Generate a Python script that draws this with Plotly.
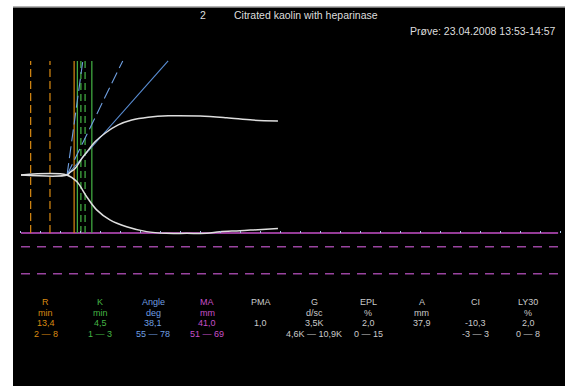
import plotly.graph_objects as go

# ---- data (time in minutes, amplitude in mm) ----
time_upper = [0, 14.3, 15.2, 16.8, 18.9, 20.9, 23.0, 26.1, 30.2, 34.4, 39.5, 45.7, 55.6, 63.9, 72.0, 79.8]
amp_upper = [0, 0, 0.9, 2.3, 5.8, 8.7, 11.6, 14.6, 17.5, 19.2, 20.2, 20.7, 20.6, 20.0, 19.2, 18.9]
time_lower = [0, 14.2, 17.3, 20.4, 23.5, 27.6, 32.8, 39.0, 45.2, 51.5, 57.7, 61.8, 68.0, 73.6, 79.8]
amp_lower = [0, 0, -2.3, -7.6, -12.2, -15.7, -18.1, -19.8, -20.4, -20.4, -20.4, -19.8, -19.5, -19.1, -18.7]

r_range_times = [3.0, 9.0]
r_time = 16.5
k_solid_times = [17.5, 22.0]
k_dashed_times = [18.6, 19.9]
marker_top, marker_bottom = 39.9, -20.3

angle_origin = (14.3, 0.0)
angle_solid_end = (45.7, 39.9)
angle_dashed_ends = [(31.6, 39.9), (19.2, 39.9)]

ma_level = -20.3
ma_range_levels = [-25.1, -34.5]
ma_span = [0, 166.8]

title_num = "2"
title_text = "Citrated kaolin with heparinase"
sample_text = "Prøve: 23.04.2008 13:53-14:57"

param_names = ["R", "K", "Angle", "MA", "PMA", "G", "EPL", "A", "CI", "LY30"]
param_units = ["min", "min", "deg", "mm", "", "d/sc", "%", "mm", "", "%"]
param_values = ["13,4", "4,5", "38,1", "41,0", "1,0", "3,5K", "2,0", "37,9", "-10,3", "2,0"]
param_ranges = ["2 — 8", "1 — 3", "55 — 78", "51 — 69", "", "4,6K — 10,9K", "0 — 15", "", "-3 — 3", "0 — 8"]

# ---- styles ----
ORANGE = "#d98a12"
GREEN = "#45b545"
BLUE = "#5a8fd6"
BLUE_L = "#6f9fe0"
MAGENTA = "#c64fc8"
MAG_D = "#9a44a0"
WHITE = "#dedede"
GREY = "#cacaca"
param_colors = [ORANGE, GREEN, BLUE_L, MAGENTA, GREY, GREY, GREY, GREY, GREY, GREY]
FONT = "Liberation Sans"

W, H = 569, 386
ML, MR, MT, MB = 13, 4, 7, 0

fig = go.Figure()

def seg(x, y, color, dash="solid", width=1.0, shape="linear"):
    fig.add_trace(go.Scatter(x=x, y=y, mode="lines", hoverinfo="skip",
                             line=dict(color=color, width=width, dash=dash, shape=shape),
                             showlegend=False))

# MA reference lines
seg(ma_span, [ma_level, ma_level], MAGENTA, width=1.6)
for lv in ma_range_levels:
    seg(ma_span, [lv, lv], MAG_D, dash="9px,7px", width=1.5)

# R lines
for t in r_range_times:
    seg([t, t], [marker_bottom, marker_top], ORANGE, dash="8px,4px", width=1.2)
seg([r_time, r_time], [marker_bottom, marker_top], ORANGE, width=1.2)

# K lines
for t in k_solid_times:
    seg([t, t], [marker_bottom, marker_top], GREEN, width=1.2)
for t in k_dashed_times:
    seg([t, t], [marker_bottom, marker_top], GREEN, dash="7px,4px", width=1.2)

# Angle lines
seg([angle_origin[0], angle_solid_end[0]], [angle_origin[1], angle_solid_end[1]], BLUE, width=1.1)
for end in angle_dashed_ends:
    seg([angle_origin[0], end[0]], [angle_origin[1], end[1]], BLUE_L, dash="12px,5px", width=1.1)

# TEG tracing
seg(time_upper, amp_upper, WHITE, width=1.5, shape="spline")
seg(time_lower, amp_lower, WHITE, width=1.5, shape="spline")

# pixel-based positions for text
def xp(px):
    return (px - ML) / (W - ML - MR)

def yp(py):
    return (H - MB - py) / (H - MT - MB)

ann = []
def txt(px, py, s, color, size=9, anchor="center"):
    ann.append(dict(x=xp(px), y=yp(py), xref="paper", yref="paper", text=s, showarrow=False,
                    xanchor=anchor, yanchor="middle", font=dict(family=FONT, size=size, color=color)))

txt(203, 15, title_num, WHITE, size=10.5)
txt(232, 15, title_text, WHITE, size=10.5, anchor="left")
txt(558, 31, sample_text, WHITE, size=10.5, anchor="right")

col_x = [45.7, 100, 153, 207, 260.7, 314.3, 368, 421.7, 475, 528]
row_y = [301.7, 312.7, 323.3, 334.3]
for i in range(len(param_names)):
    for r, arr in enumerate([param_names, param_units, param_values, param_ranges]):
        if arr[i]:
            txt(col_x[i], row_y[r], arr[i], param_colors[i])

fig.update_layout(
    width=W, height=H,
    margin=dict(l=ML, r=MR, t=MT, b=MB),
    paper_bgcolor="white", plot_bgcolor="black",
    annotations=ann,
    xaxis=dict(range=[(13 - 21) / 3.22, (565 - 21) / 3.22], showgrid=False, zeroline=False,
               showticklabels=False, ticks="inside", ticklen=2, tickwidth=1, tickcolor="#a9c4e4",
               tick0=(40 - 21) / 3.22, dtick=20 / 3.22, anchor="free", position=yp(233),
               showline=False, fixedrange=True),
    yaxis=dict(range=[(175 - 386) / 2.86, (175 - 7) / 2.86], showgrid=False, zeroline=False,
               showticklabels=False, showline=False, fixedrange=True),
    shapes=[dict(type="line", xref="paper", yref="paper", x0=0, x1=1, y0=1, y1=1,
                 line=dict(color="#9a9a9a", width=1.5))],
)

fig.write_html(
    "out.html",
    config={"displayModeBar": False},
    post_script="document.body.style.margin='0';document.body.style.overflow='hidden';",
)
